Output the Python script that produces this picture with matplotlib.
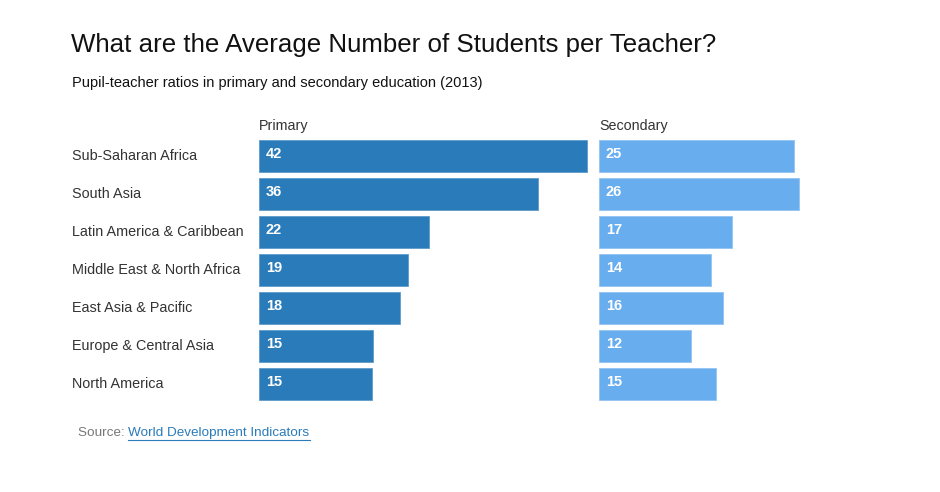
import matplotlib
matplotlib.use("Agg")
import matplotlib.pyplot as plt

regions = ["Sub-Saharan Africa", "South Asia", "Latin America & Caribbean",
           "Middle East & North Africa", "East Asia & Pacific",
           "Europe & Central Asia", "North America"]
primary = [42.0, 35.7, 21.8, 19.1, 18.1, 14.6, 14.5]
primary_labels = ["42", "36", "22", "19", "18", "15", "15"]
secondary = [25.0, 25.6, 17.0, 14.4, 15.9, 11.8, 15.0]
secondary_labels = ["25", "26", "17", "14", "16", "12", "15"]

W, H = 940, 492
plt.rcParams['font.family'] = ['Liberation Sans', 'DejaVu Sans']
fig = plt.figure(figsize=(W / 100, H / 100), dpi=100)
fig.patch.set_facecolor("white")

PPU = 7.81  # pixels per unit
top_px, bottom_px = 137, 403


def make_ax(left_px, width_px):
    ax = fig.add_axes([left_px / W, 1 - bottom_px / H, width_px / W, (bottom_px - top_px) / H])
    ax.set_xlim(0, width_px / PPU)
    ax.set_ylim(len(regions) - 0.5, -0.5)
    ax.axis("off")
    return ax


ax1 = make_ax(259, 340)
ax2 = make_ax(599, 220)

ypos = list(range(len(regions)))
ax1.barh(ypos, primary, height=0.84, color="#2a7bba", edgecolor="#5e9bcb", linewidth=0.6)
ax2.barh(ypos, secondary, height=0.84, color="#68adee", edgecolor="#92c4f3", linewidth=0.6)

off = 7 / PPU
for y, lab in zip(ypos, primary_labels):
    ax1.text(off, y - 0.04, lab, color="white", fontsize=10.5, fontweight="bold", va="center", ha="left")
for y, lab in zip(ypos, secondary_labels):
    ax2.text(off, y - 0.04, lab, color="white", fontsize=10.5, fontweight="bold", va="center", ha="left")

for y, name in zip(ypos, regions):
    fig.text(72 / W, 1 - (156 + 38 * y) / H, name, fontsize=10.4, color="#333333", va="center", ha="left")

fig.text(259 / W, 1 - 126 / H, "Primary", fontsize=10.3, color="#333333", va="center", ha="left")
fig.text(599 / W, 1 - 126 / H, "Secondary", fontsize=10.3, color="#333333", va="center", ha="left")

fig.text(71 / W, 1 - 45 / H, "What are the Average Number of Students per Teacher?",
         fontsize=18.6, color="#111111", va="center", ha="left")
fig.text(72 / W, 1 - 83 / H, "Pupil-teacher ratios in primary and secondary education (2013)",
         fontsize=10.5, color="#111111", va="center", ha="left")

t1 = fig.text(78 / W, 1 - 433 / H, "Source: ", fontsize=9.7, color="#777777", va="center", ha="left")
fig.canvas.draw()
bb = t1.get_window_extent()
link = fig.text(bb.x1 / W, 1 - 433 / H, "World Development Indicators", fontsize=9.7,
                color="#2a7bba", va="center", ha="left")
fig.canvas.draw()
lb = link.get_window_extent()
fig.add_artist(plt.Line2D([lb.x0 / W, lb.x1 / W], [(lb.y0 - 1) / H, (lb.y0 - 1) / H],
                          color="#2a7bba", linewidth=0.8))

fig.savefig("out.png", dpi=100, facecolor="white")
